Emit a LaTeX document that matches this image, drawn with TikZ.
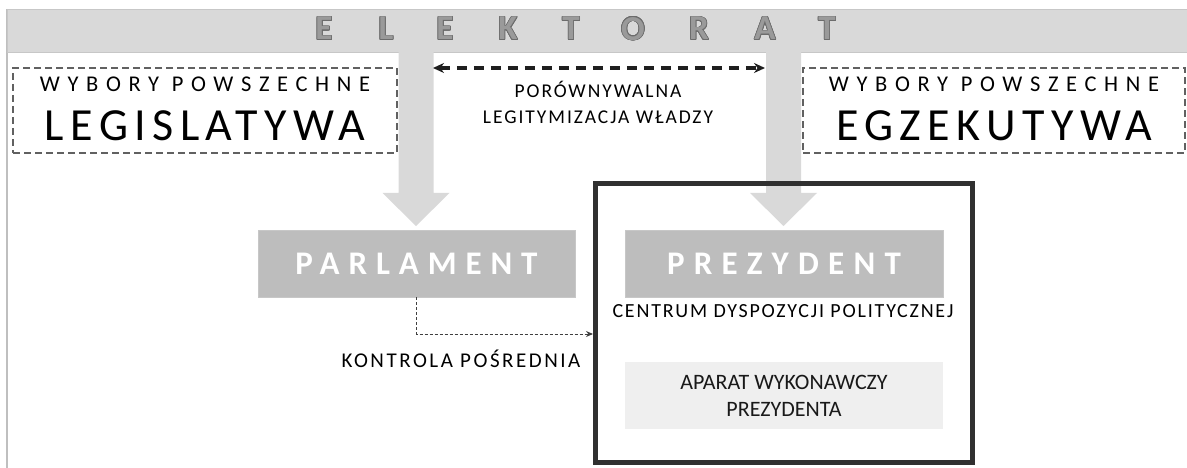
\documentclass[tikz,border=0pt]{standalone}
\usepackage{fontspec}
\setmainfont{Carlito}
\usepackage{contour}
\contourlength{0.7pt}
\usetikzlibrary{calc,arrows.meta}
\definecolor{bandgray}{HTML}{D9D9D9}
\definecolor{boxgray}{HTML}{BDBDBD}
\definecolor{lightbox}{HTML}{EFEFEF}
\definecolor{lettergray}{HTML}{9A9A9A}
\definecolor{letteredge}{HTML}{6C6C6C}
\definecolor{framegray}{HTML}{303030}
\def\bigdown(#1,#2,#3){\fill[bandgray] (#1-17.5,#2) -- (#1-17.5,#3-33) -- (#1-33.5,#3-33) -- (#1,#3) -- (#1+33.5,#3-33) -- (#1+17.5,#3-33) -- (#1+17.5,#2) -- cycle;}

\begin{document}
\begin{tikzpicture}[x=1pt, y=-1pt,
		bandletter/.style={text=lettergray, font=\fontsize{35}{35}\selectfont\bfseries, inner sep=0pt},
		votebox/.style={draw=black!62, line width=1.2pt, dash pattern=on 7pt off 4pt, minimum width=384pt, minimum height=85pt, inner sep=0pt, align=center},
		organ/.style={fill=boxgray, draw=black!22, minimum width=317pt, minimum height=67pt, inner sep=0pt, text=white, font=\fontsize{33}{33}\selectfont\bfseries\addfontfeatures{LetterSpace=27}},
		caption/.style={inner sep=0pt, text=black, align=center}]
			%%%%% START %%%%%
			\useasboundingbox (0,0) rectangle (1187,468);
			
			% elektorat band
			\draw[black!25, line width=2pt] (7,9) -- (7,468);
			\node[fill=bandgray, draw=black!22, line width=0.8pt, minimum width=1182pt, minimum height=43pt, inner sep=0pt] (band) at (598,30.5) {};
			\foreach \ch/\xx in {E/324,L/386,E/445,K/508,T/571,O/633,R/699,A/765,T/827}
				\node[bandletter] (el\xx) at (\xx,29) {\contour{letteredge}{\ch}};
			
			\bigdown(416,51,226)
			\bigdown(783.5,51,226)
			
			% wybory
			\node[votebox] (leg) at (205,110.5) {};
			\node[caption, font=\fontsize{22.5}{22.5}\selectfont\addfontfeatures{LetterSpace=34}] (legvote) at (205,84) {WYBORY POWSZECHNE};
			\node[caption, font=\fontsize{46}{46}\selectfont\addfontfeatures{LetterSpace=14}] (legname) at (205,125.5) {LEGISLATYWA};
			
			\node[votebox, minimum width=382pt] (egz) at (994,110.5) {};
			\node[caption, font=\fontsize{22.5}{22.5}\selectfont\addfontfeatures{LetterSpace=34}] (egzvote) at (994,84) {WYBORY POWSZECHNE};
			\node[caption, font=\fontsize{46}{46}\selectfont\addfontfeatures{LetterSpace=14}] (egzname) at (994,125.5) {EGZEKUTYWA};
			
			\coordinate (lf) at (433,68);
			\coordinate (rf) at (765,68);
			\draw[{Stealth[length=11pt,width=10pt]}-{Stealth[length=11pt,width=10pt]}, black!88, line width=3.4pt, dash pattern=on 10pt off 7pt] (lf) -- (rf);
			\node[caption, font=\fontsize{19.5}{26}\selectfont\addfontfeatures{LetterSpace=10}] (legit) at (598,102.5) {PORÓWNYWALNA\\LEGITYMIZACJA WŁADZY};
			
			% organy
			\node[draw=framegray, line width=5pt, minimum width=377pt, minimum height=279pt, inner sep=0pt] (frame) at (784,323) {};
			\node[organ] (parl) at (416.5,263.5) {PARLAMENT};
			\node[organ, minimum width=318pt, font=\fontsize{33}{33}\selectfont\bfseries\addfontfeatures{LetterSpace=28}] (prez) at (784,263.5) {PREZYDENT};
			\node[caption, font=\fontsize{20}{20}\selectfont\addfontfeatures{LetterSpace=9}] (centr) at (783,311) {CENTRUM DYSPOZYCJI POLITYCZNEJ};
			\node[fill=lightbox, minimum width=318pt, minimum height=67pt, inner sep=0pt, align=center, font=\fontsize{22}{27}\selectfont, text=black!90] (apar) at (784,395.5) {APARAT WYKONAWCZY\\PREZYDENTA};
			
			\draw[-{Stealth[length=7pt,width=6pt]}, black!75, line width=1pt, dash pattern=on 3pt off 2pt] (parl.south) |- ($(frame.west)+(0,11)$);
			\node[caption, font=\fontsize{21}{21}\selectfont\addfontfeatures{LetterSpace=12}] (ctrl) at (461,358.5) {KONTROLA POŚREDNIA};
			%%%%% END %%%%%
\end{tikzpicture}
\end{document}
